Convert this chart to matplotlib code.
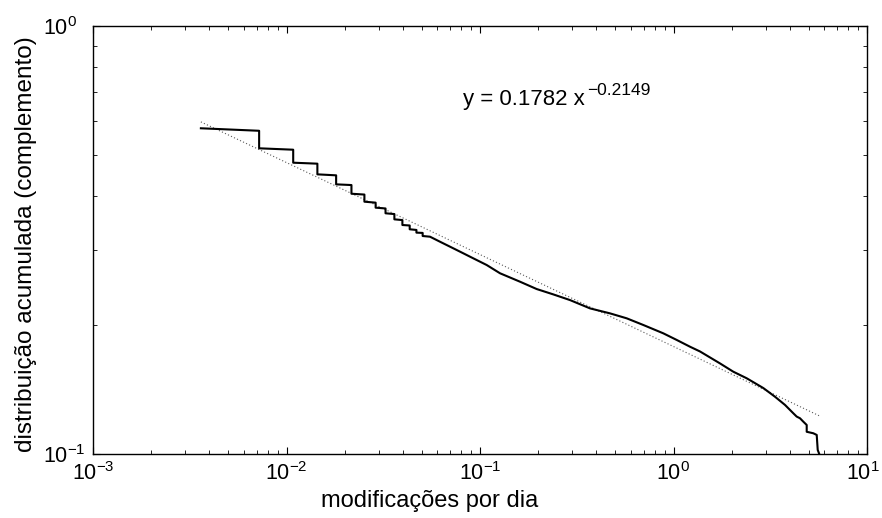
import matplotlib
matplotlib.use("Agg")
import matplotlib.pyplot as plt
from matplotlib.ticker import NullFormatter
from matplotlib.transforms import ScaledTranslation

plt.rcParams['font.family'] = ['Liberation Sans', 'DejaVu Sans']
plt.rcParams['mathtext.fontset'] = 'custom'
plt.rcParams['mathtext.rm'] = 'Liberation Sans'
plt.rcParams['mathtext.it'] = 'Liberation Sans:italic'
plt.rcParams['mathtext.default'] = 'regular'

# CCDF of modifications per day (stepped at the low end, then smooth)
ccdf_x = [0.003610, 0.007220, 0.007220, 0.010830, 0.010830, 0.014440, 0.014440,
          0.018051, 0.018051, 0.021661, 0.021661, 0.025271, 0.025271, 0.028881, 0.028881,
          0.032491, 0.032491, 0.036101, 0.036101, 0.039711, 0.039711, 0.043321, 0.043321,
          0.046931, 0.046931, 0.050542, 0.050542,
          0.05515, 0.06213, 0.07278, 0.08196, 0.08877, 0.1083, 0.1269, 0.1609, 0.1963,
          0.2392, 0.2918, 0.3703, 0.4697, 0.5730, 0.6979, 0.8858, 1.039, 1.217, 1.371,
          1.739, 2.037, 2.389, 2.911, 3.345, 3.770, 4.160, 4.331, 4.505, 4.687, 4.880,
          4.880, 5.279, 5.497, 5.563, 5.715]
ccdf_y = [0.5768, 0.5691, 0.5179, 0.5140, 0.4793, 0.4768, 0.4502,
          0.4478, 0.4266, 0.4250, 0.4056, 0.4038, 0.3886, 0.3866, 0.3763,
          0.3747, 0.3651, 0.3636, 0.3534, 0.3520, 0.3428, 0.3419, 0.3350,
          0.3338, 0.3290, 0.3285, 0.3231,
          0.3219, 0.3133, 0.3024, 0.2944, 0.2891, 0.2764, 0.2644, 0.2527, 0.2429,
          0.2360, 0.2289, 0.2189, 0.2131, 0.2075, 0.2002, 0.1914, 0.1847, 0.1781, 0.1736,
          0.1628, 0.1557, 0.1503, 0.1426, 0.1361, 0.1302, 0.1245, 0.1223, 0.1212, 0.1190, 0.1169,
          0.1127, 0.1118, 0.1108, 0.1022, 0.0990]

# Power-law fit (straight line in log-log), end points
fit_x = [0.00361, 5.65]
fit_y = [0.597, 0.1229]
fit_base = 'y = 0.1782 x'
fit_exp = '\u22120.2149'

xlabel = 'modificações por dia'
ylabel = 'distribuição acumulada (complemento)'

fig = plt.figure(figsize=(8.82, 5.18), dpi=100)
ax = fig.add_axes([93/882, 1-454/518, 774/882, 428/518])

ax.plot(fit_x, fit_y, linestyle=(0, (1, 2)), color='0.35', lw=0.8)
ax.plot(ccdf_x, ccdf_y, color='black', lw=1.5)

ax.set_xscale('log')
ax.set_yscale('log')
ax.set_xlim(1e-3, 1e1)
ax.set_ylim(1e-1, 1e0)
ax.xaxis.set_minor_formatter(NullFormatter())
ax.yaxis.set_minor_formatter(NullFormatter())

main = ax.text(0.0817, 0.6536, fit_base, fontsize=16, ha='left', va='baseline')
ax.annotate(fit_exp, xy=(1, 0), xycoords=main, xytext=(1.5, 11), textcoords='offset points',
            fontsize=12.5, ha='left', va='baseline')

for s in ax.spines.values():
    s.set_linewidth(1.0)
ax.tick_params(which='both', direction='in', top=True, right=True, labelsize=15.5)
ax.tick_params(which='major', length=5, width=0.8)
ax.tick_params(which='minor', length=2.8, width=0.6)
ax.tick_params(axis='x', which='major', pad=6)
ax.tick_params(axis='y', which='major', pad=4)

# align the "10" bases of the y tick labels (exponent hangs to the right)
off = ScaledTranslation(-44/100, 0, fig.dpi_scale_trans)
for t in ax.yaxis.get_major_ticks():
    t.label1.set_horizontalalignment('left')
    t.label1.set_transform(t.label1.get_transform() + off)

# keep the rightmost x tick label inside the figure
off_r = ScaledTranslation(-4/100, 0, fig.dpi_scale_trans)
for loc, t in zip(ax.xaxis.get_majorticklocs(), ax.xaxis.get_major_ticks()):
    if abs(loc - 10.0) < 1e-9:
        t.label1.set_transform(t.label1.get_transform() + off_r)

ax.set_xlabel(xlabel, fontsize=17)
ax.set_ylabel(ylabel, fontsize=17.5)
ax.xaxis.set_label_coords(0.435, -0.085)
ax.yaxis.set_label_coords(-0.072, 0.49)

fig.savefig('out.png', dpi=100)
